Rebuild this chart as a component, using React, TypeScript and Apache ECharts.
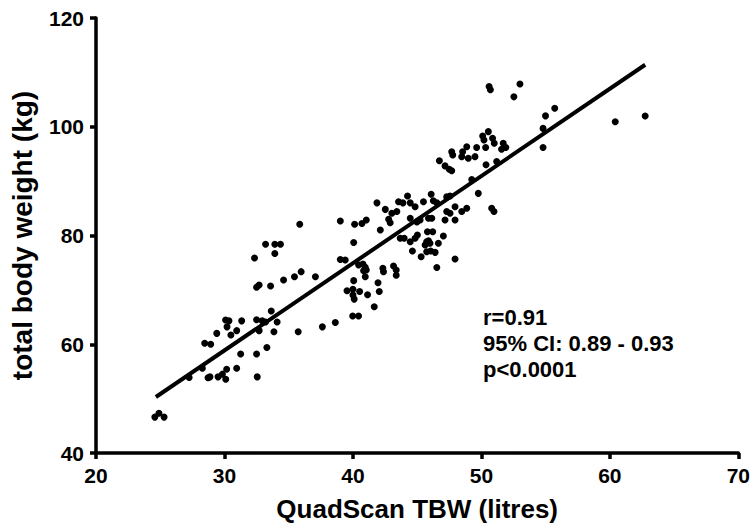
import React, { useEffect, useRef } from "react";
import * as echarts from "echarts";

// QuadScan TBW (litres)
const tbw: number[] = [
  32.5, 33.59, 34.6, 33.64, 30.09, 30.35, 31.34, 32.5, 32.94, 33.2, 34.1, 30.2, 30.95, 30.5, 29.4, 32.7,
  33.85, 28.46, 28.93, 33.3, 31.26, 32.5, 28.28, 30.17, 30.95, 27.25, 28.72, 28.87, 29.5, 29.84, 30.1, 32.55,
  24.58, 24.9, 25.3,
  40.06, 41.95, 39.54, 40.0, 40.52, 40.0, 40.1, 41.14, 42.05, 41.66, 39.98, 40.44, 38.63, 37.62, 35.74,
  41.87, 35.86, 39.02, 40.13, 40.7, 41.04, 42.13, 33.2, 33.92, 34.36, 33.92, 32.34, 40.06, 39.02, 39.4, 40.44,
  40.78, 40.96, 40.83, 41.04, 40.96, 35.97, 35.45, 37.08, 32.7,
  44.25, 46.09, 43.55, 43.89, 44.46, 44.84, 45.49, 46.26, 46.53, 47.3, 47.56, 49.76, 42.52, 43.03, 43.42, 42.78,
  42.9, 47.95, 47.3, 47.56, 48.47, 48.86, 50.8, 50.98, 47.17, 47.95, 44.46, 44.98, 45.23, 45.88, 46.14, 45.8,
  46.21, 47.04, 43.68, 43.99, 44.46, 44.84, 45.02, 45.74, 45.62, 46.0, 45.88, 46.65, 44.63, 45.74, 46.05, 46.4,
  45.31, 47.95, 46.53, 42.33, 42.38, 43.16, 43.37, 43.37,
  50.6, 50.7, 53.0, 52.53, 54.99, 55.71, 54.8, 54.8, 50.54, 50.1, 50.2, 50.87, 51.0, 51.7, 51.9, 51.57,
  50.33, 49.63, 48.86, 49.5, 48.54, 48.47, 48.98, 47.69, 47.77, 46.73, 47.17, 47.5, 47.69, 50.36, 51.19, 49.25,
  60.42, 62.75,
];

// total body weight (kg)
const weight: number[] = [
  70.5, 70.7, 71.8, 66.1, 64.46, 64.3, 64.3, 64.5, 64.3, 64.1, 64.1, 63.2, 62.5, 61.7, 62.0, 62.5,
  62.3, 60.2, 60.0, 59.4, 58.2, 58.2, 55.6, 55.4, 55.6, 53.9, 53.85, 54.0, 54.0, 54.5, 53.55, 54.0,
  46.6, 47.3, 46.6,
  71.7, 71.3, 69.85, 70.1, 69.7, 69.06, 68.3, 69.1, 69.7, 66.9, 65.2, 65.2, 64.0, 63.2, 62.3,
  86.0, 82.06, 82.67, 82.06, 82.2, 82.85, 81.0, 78.4, 78.4, 78.4, 76.7, 75.86, 78.7, 75.6, 75.5, 74.6,
  74.76, 74.15, 73.5, 73.65, 72.4, 73.35, 72.4, 72.4, 70.9,
  87.26, 87.6, 86.2, 86.0, 86.0, 85.3, 86.2, 86.4, 86.0, 87.1, 87.26, 87.75, 84.8, 84.1, 84.4, 83.0,
  82.35, 85.3, 84.4, 84.1, 84.4, 85.0, 85.0, 84.4, 82.85, 82.85, 83.16, 82.5, 82.85, 83.16, 83.16, 80.7,
  80.7, 79.9, 79.48, 79.48, 78.86, 79.48, 80.1, 78.86, 78.25, 78.56, 79.05, 78.56, 77.15, 77.0, 77.15, 76.9,
  76.1, 75.68, 74.1, 73.97, 73.35, 74.4, 73.65, 72.7,
  107.4, 106.8, 107.86, 105.5, 102.0, 103.4, 99.7, 96.2, 99.1, 98.3, 97.56, 97.9, 96.96, 96.96, 96.2, 95.85,
  96.2, 96.2, 96.33, 94.5, 95.4, 94.5, 94.2, 95.4, 94.8, 93.76, 92.8, 92.17, 91.9, 93.0, 93.6, 90.3,
  100.93, 101.98,
];

// regression line end points
const fitX: number[] = [24.66, 62.75];
const fitY: number[] = [50.3, 111.4];

const xTicks = { min: 20, max: 70, interval: 10 };
const yTicks = { min: 40, max: 120, interval: 20 };

const statsLines: string[] = ["r=0.91", "95% CI: 0.89 - 0.93", "p<0.0001"];

const FONT = "'Liberation Sans', Arial, sans-serif";

export default function App() {
  const ref = useRef<HTMLDivElement>(null);

  useEffect(() => {
    document.body.style.margin = "0";
    if (!ref.current) return;
    const chart = echarts.init(ref.current, null, { renderer: "svg" });
    const points = tbw.map((x, i) => [x, weight[i]]);
    const fit = fitX.map((x, i) => [x, fitY[i]]);
    const axisLine = { lineStyle: { color: "#000", width: 3.5 } };
    const axisTick = { show: true, length: 6, lineStyle: { color: "#000", width: 3.5 } };
    const axisLabel = { color: "#000", fontSize: 21, fontWeight: "bold" as const, fontFamily: FONT };
    chart.setOption({
      animation: false,
      backgroundColor: "#fff",
      grid: { left: 95, top: 18, width: 644, height: 435, containLabel: false },
      xAxis: {
        type: "value",
        min: xTicks.min,
        max: xTicks.max,
        interval: xTicks.interval,
        axisLine,
        axisTick,
        splitLine: { show: false },
        axisLabel: { ...axisLabel, margin: 12 },
        name: "QuadScan TBW (litres)",
        nameLocation: "middle",
        nameGap: 43,
        nameTextStyle: { color: "#000", fontSize: 26, fontWeight: "bold", fontFamily: FONT },
      },
      yAxis: {
        type: "value",
        min: yTicks.min,
        max: yTicks.max,
        interval: yTicks.interval,
        axisLine,
        axisTick,
        splitLine: { show: false },
        axisLabel: { ...axisLabel, margin: 12 },
        name: "total body weight (kg)",
        nameLocation: "middle",
        nameGap: 60,
        nameTextStyle: { color: "#000", fontSize: 28, fontWeight: "bold", fontFamily: FONT },
      },
      series: [
        {
          type: "scatter",
          data: points,
          symbol: "circle",
          symbolSize: 7,
          itemStyle: { color: "#000", opacity: 1 },
        },
        {
          type: "line",
          data: fit,
          symbol: "none",
          lineStyle: { color: "#000", width: 4 },
        },
      ],
      graphic: statsLines.map((t, i) => ({
        type: "text",
        left: 483,
        top: 306 + i * 26,
        style: { text: t, fill: "#000", fontSize: 22, fontWeight: "bold", fontFamily: FONT },
      })),
    });
    return () => chart.dispose();
  }, []);

  return <div ref={ref} style={{ width: 753, height: 530 }} />;
}
